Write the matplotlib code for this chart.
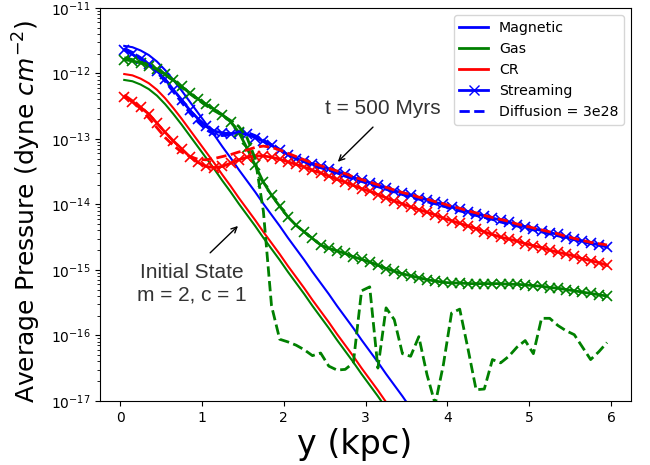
import numpy as np
import matplotlib
matplotlib.use("Agg")
import matplotlib.pyplot as plt
from matplotlib.lines import Line2D
from matplotlib.patches import FancyArrowPatch

# height grid (kpc)
y_kpc = [0.05, 0.15, 0.25, 0.35, 0.45, 0.55, 0.65, 0.75, 0.85, 0.95,
         1.05, 1.15, 1.25, 1.35, 1.45, 1.55, 1.65, 1.75, 1.85, 1.95,
         2.05, 2.15, 2.25, 2.35, 2.45, 2.55, 2.65, 2.75, 2.85, 2.95,
         3.05, 3.15, 3.25, 3.35, 3.45, 3.55, 3.65, 3.75, 3.85, 3.95,
         4.05, 4.15, 4.25, 4.35, 4.45, 4.55, 4.65, 4.75, 4.85, 4.95,
         5.05, 5.15, 5.25, 5.35, 5.45, 5.55, 5.65, 5.75, 5.85, 5.95]

# initial state (log10 pressure), grid up to 3.75 kpc
y_init = y_kpc[:38]
init_mag_log = [-11.58, -11.60, -11.65, -11.72, -11.82, -11.95, -12.10, -12.26, -12.43, -12.60,
                -12.77, -12.94, -13.12, -13.29, -13.47, -13.64, -13.81, -13.99, -14.16, -14.33,
                -14.51, -14.68, -14.85, -15.03, -15.20, -15.37, -15.55, -15.72, -15.89, -16.07,
                -16.24, -16.41, -16.59, -16.76, -16.93, -17.11, -17.28, -17.45]
init_cr_log = [-12.01, -12.03, -12.08, -12.15, -12.25, -12.38, -12.53, -12.69, -12.86, -13.03,
               -13.20, -13.37, -13.55, -13.72, -13.90, -14.07, -14.24, -14.42, -14.59, -14.76,
               -14.94, -15.11, -15.28, -15.46, -15.63, -15.80, -15.98, -16.15, -16.32, -16.50,
               -16.67, -16.84, -17.02, -17.19, -17.36, -17.53, -17.70, -17.88]
init_gas_log = [-12.10, -12.12, -12.17, -12.24, -12.34, -12.47, -12.62, -12.78, -12.95, -13.12,
                -13.29, -13.46, -13.64, -13.81, -13.99, -14.16, -14.33, -14.51, -14.68, -14.85,
                -15.03, -15.20, -15.37, -15.55, -15.72, -15.89, -16.07, -16.24, -16.41, -16.59,
                -16.76, -16.93, -17.11, -17.28, -17.45, -17.62, -17.80, -17.97]

# t = 500 Myr, streaming
stream_mag_log = [-11.64, -11.71, -11.78, -11.86, -11.96, -12.09, -12.25, -12.40, -12.56, -12.69,
                  -12.81, -12.88, -12.91, -12.92, -12.91, -12.93, -12.98, -13.04, -13.10, -13.17,
                  -13.24, -13.30, -13.34, -13.38, -13.42, -13.46, -13.50, -13.54, -13.59, -13.63,
                  -13.67, -13.71, -13.75, -13.79, -13.83, -13.86, -13.90, -13.93, -13.97, -14.00,
                  -14.04, -14.07, -14.11, -14.14, -14.18, -14.21, -14.24, -14.27, -14.31, -14.34,
                  -14.37, -14.40, -14.43, -14.46, -14.50, -14.53, -14.56, -14.59, -14.62, -14.65]
stream_gas_log = [-11.79, -11.81, -11.84, -11.88, -11.94, -12.01, -12.10, -12.20, -12.30, -12.39,
                  -12.47, -12.55, -12.63, -12.74, -12.90, -13.14, -13.40, -13.66, -13.86, -14.03,
                  -14.19, -14.32, -14.42, -14.52, -14.62, -14.67, -14.71, -14.75, -14.80, -14.84,
                  -14.88, -14.93, -14.98, -15.02, -15.06, -15.09, -15.12, -15.15, -15.17, -15.19,
                  -15.20, -15.20, -15.21, -15.21, -15.21, -15.21, -15.21, -15.22, -15.22, -15.23,
                  -15.24, -15.25, -15.27, -15.28, -15.30, -15.32, -15.34, -15.36, -15.38, -15.40]
stream_cr_log = [-12.36, -12.43, -12.52, -12.62, -12.76, -12.90, -13.03, -13.15, -13.27, -13.36,
                 -13.42, -13.44, -13.42, -13.37, -13.32, -13.28, -13.26, -13.26, -13.28, -13.31,
                 -13.35, -13.39, -13.43, -13.48, -13.52, -13.57, -13.62, -13.66, -13.71, -13.76,
                 -13.80, -13.85, -13.90, -13.95, -13.99, -14.04, -14.08, -14.12, -14.16, -14.21,
                 -14.25, -14.29, -14.33, -14.37, -14.42, -14.46, -14.50, -14.53, -14.56, -14.60,
                 -14.63, -14.66, -14.70, -14.73, -14.76, -14.79, -14.83, -14.86, -14.89, -14.93]

# t = 500 Myr, diffusion = 3e28
diff_mag_log = [-11.62, -11.68, -11.76, -11.86, -11.98, -12.12, -12.28, -12.44, -12.60, -12.74,
                -12.86, -12.93, -12.95, -12.93, -12.89, -12.90, -12.95, -13.02, -13.09, -13.16,
                -13.23, -13.29, -13.35, -13.40, -13.44, -13.48, -13.52, -13.57, -13.61, -13.65,
                -13.69, -13.73, -13.77, -13.81, -13.85, -13.89, -13.92, -13.96, -13.99, -14.03,
                -14.06, -14.10, -14.13, -14.17, -14.20, -14.23, -14.27, -14.30, -14.33, -14.36,
                -14.39, -14.42, -14.45, -14.48, -14.51, -14.54, -14.57, -14.60, -14.62, -14.64]
diff_gas_log = [-11.76, -11.79, -11.83, -11.88, -11.94, -12.02, -12.11, -12.21, -12.31, -12.40,
                -12.49, -12.57, -12.64, -12.72, -12.81, -12.98, -13.30, -14.10, -15.55, -16.06,
                -16.10, -16.15, -16.22, -16.31, -16.27, -16.47, -16.53, -16.52, -16.42, -15.32,
                -15.26, -16.50, -15.58, -15.76, -16.28, -16.32, -16.02, -16.60, -17.05, -16.45,
                -15.66, -15.60, -16.20, -16.83, -16.82, -16.37, -16.42, -16.32, -16.18, -16.08,
                -16.28, -15.74, -15.74, -15.85, -15.93, -15.99, -16.18, -16.37, -16.25, -16.11]
diff_cr_log = [-12.33, -12.42, -12.54, -12.68, -12.83, -12.98, -13.10, -13.20, -13.27, -13.31,
               -13.32, -13.30, -13.27, -13.24, -13.20, -13.17, -13.13, -13.11, -13.13, -13.17,
               -13.22, -13.27, -13.32, -13.37, -13.41, -13.45, -13.49, -13.53, -13.58, -13.62,
               -13.66, -13.70, -13.74, -13.78, -13.82, -13.85, -13.89, -13.92, -13.96, -13.99,
               -14.03, -14.06, -14.10, -14.13, -14.17, -14.20, -14.23, -14.26, -14.30, -14.33,
               -14.36, -14.39, -14.42, -14.45, -14.49, -14.52, -14.55, -14.58, -14.60, -14.62]

colors = {"mag": "blue", "gas": "green", "cr": "red"}

fig = plt.figure(figsize=(6.5, 4.65), dpi=100)
ax = fig.add_axes([0.154, 0.138, 0.817, 0.845])

def P(v):
    return 10.0 ** np.asarray(v)

# initial state
ax.plot(y_init, P(init_mag_log), color=colors["mag"], lw=1.5)
ax.plot(y_init, P(init_gas_log), color=colors["gas"], lw=1.5)
ax.plot(y_init, P(init_cr_log), color=colors["cr"], lw=1.5)

# streaming
for key, arr in (("mag", stream_mag_log), ("gas", stream_gas_log), ("cr", stream_cr_log)):
    ax.plot(y_kpc, P(arr), color=colors[key], lw=2, marker="x", ms=7, mew=1.2)
# diffusion
for key, arr in (("mag", diff_mag_log), ("gas", diff_gas_log), ("cr", diff_cr_log)):
    ax.plot(y_kpc, P(arr), color=colors[key], lw=2, ls="--")

ax.set_yscale("log")
ax.set_ylim(1e-17, 1e-11)
ax.set_xlim(-0.245, 6.245)
ax.set_xticks([0, 1, 2, 3, 4, 5, 6])
ax.tick_params(labelsize=10)

ax.set_xlabel("y (kpc)", fontsize=24)
ax.xaxis.set_label_coords(0.48, -0.068)
ax.xaxis.label.set_va("top")
ax.set_ylabel("Average Pressure (dyne $cm^{-2}$)", fontsize=18)
ax.yaxis.set_label_coords(-0.108, 0.482)

handles = [Line2D([], [], color="blue", lw=2),
           Line2D([], [], color="green", lw=2),
           Line2D([], [], color="red", lw=2),
           Line2D([], [], color="blue", lw=2, marker="x", ms=7),
           Line2D([], [], color="blue", lw=2, ls="--")]
labels = ["Magnetic", "Gas", "CR", "Streaming", "Diffusion = 3e28"]
ax.legend(handles, labels, loc="upper right", fontsize=10.2)

txtfont = dict(family=["Liberation Sans", "DejaVu Sans"], fontsize=15, color="#333333")
ax.text(3.21, 10**-12.53, "t = 500 Myrs", ha="center", va="center", **txtfont)
ax.add_patch(FancyArrowPatch((3.09, 10**-12.82), (2.66, 10**-13.35),
                             arrowstyle="->", mutation_scale=10, color="black", lw=1,
                             shrinkA=0, shrinkB=0))
ax.text(0.88, 10**-15.21, "Initial State\nm = 2, c = 1", ha="center", va="center",
        linespacing=1.25, **txtfont)
ax.add_patch(FancyArrowPatch((1.10, 10**-14.74), (1.44, 10**-14.33),
                             arrowstyle="->", mutation_scale=10, color="black", lw=1,
                             shrinkA=0, shrinkB=0))

fig.savefig("out.png", dpi=100)
